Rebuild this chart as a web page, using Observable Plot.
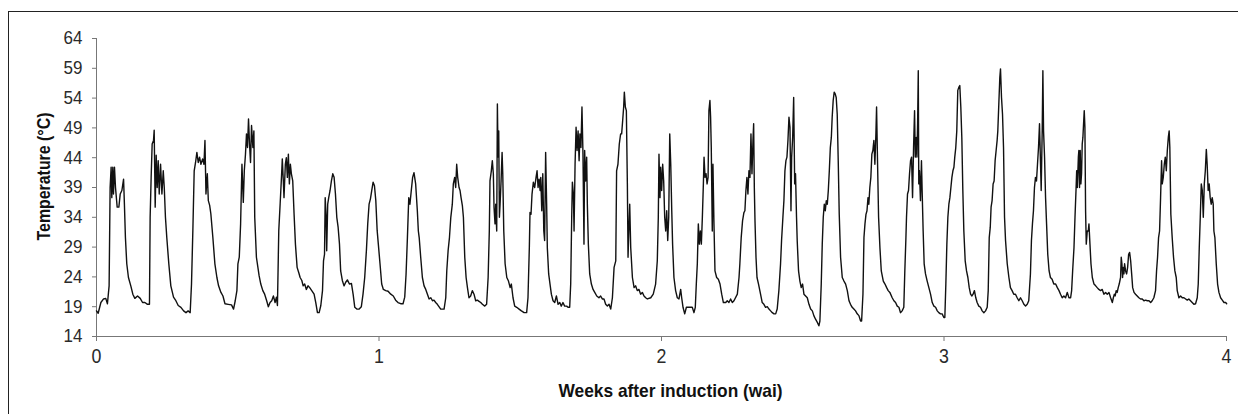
<!DOCTYPE html>
<html>
<head>
<meta charset="utf-8">
<script src="https://cdn.jsdelivr.net/npm/d3@7"></script>
<script src="https://cdn.jsdelivr.net/npm/@observablehq/plot@0.6"></script>
<style>
  html, body { margin: 0; padding: 0; background: #fff; }
  body { width: 1238px; height: 414px; position: relative; overflow: hidden; }
  #frame { position: absolute; left: 8px; top: 11px; width: 1240px; height: 410px; border: 1px solid #222; box-sizing: border-box; }
  #chart { position: absolute; left: 0; top: 0; }
  #chart svg { font-family: "Liberation Sans Narrow", "Arial Narrow", "Liberation Sans", Arial, sans-serif; }
</style>
</head>
<body>
<div id="frame"></div>
<div id="chart"></div>
<script>
// Temperature readings: [hours after induction, °C]
const week1Readings = [
  [0,18.3],[1.0,17.9],[2.6,19.7],[4.2,20.3],[5.5,20.4],[6.5,19.5],[7.5,22.5],[8.1,39.0],[8.7,42.4],[9.1,37.3],[9.7,42.4],[10.1,37.9],[10.7,42.4],[11.3,39.0],[12.3,35.7],[13.3,35.7],[14.1,37.9],[15.1,38.5],[16.1,40.4],[16.6,36.2],[17.2,30.6],[18.0,26.2],[19.0,23.9],[20.4,22.5],[21.6,21.1],[22.8,20.4],
  [24.4,20.8],[26.0,20.4],[27.4,19.7],[28.8,19.7],[30.3,19.4],[31.5,19.4],[31.9,34.0],[32.5,40.7],[33.1,46.3],[33.9,46.9],[34.3,48.6],[34.9,35.7],[35.5,44.4],[36.1,39.0],[36.7,43.5],[37.3,37.9],[38.1,42.9],[38.9,37.9],[39.7,41.8],[40.3,39.0],[41.0,34.0],[41.8,30.6],[43.0,26.2],[44.2,22.5],[45.8,20.6],[47.2,20.0],
  [48.6,19.2],[50.2,18.9],[51.8,18.3],[53.2,18.0],[54.5,18.3],[55.7,18.0],[56.5,22.8],[57.3,31.8],[58.1,41.8],[58.9,43.2],[59.7,44.9],[60.5,43.2],[61.3,44.1],[62.1,42.9],[63.1,43.8],[63.9,42.9],[64.5,46.9],[65.1,37.9],[65.9,41.3],[66.5,36.8],[67.3,36.0],[68.0,34.6],[69.2,30.6],[70.4,26.2],[71.6,23.9],
  [72.6,22.5],[74.0,21.4],[75.2,20.8],[76.4,19.5],[78.3,19.4],[80.3,19.3],[81.5,18.6],[82.5,20.0],[83.5,21.7],[84.1,26.2],[84.9,27.3],[85.7,32.9],[86.5,42.9],[87.3,36.5],[87.9,41.8],[88.6,44.6],[89.2,48.0],[89.8,45.7],[90.4,50.5],[91.0,46.3],[91.6,43.2],[92.2,49.4],[93.0,45.7],[93.6,48.5],[94.1,34.0],[95.1,27.3],
  [96.7,24.2],[97.7,22.8],[98.9,21.7],[100.0,21.1],[101.2,20.0],[102.2,19.0],[103.2,19.7],[104.2,20.0],[105.2,20.8],[106.2,19.7],[107.0,20.6],[107.6,19.2],[108.4,31.8],[109.2,36.2],[110.0,40.7],[110.5,43.8],[111.1,40.1],[111.5,37.3],[112.3,42.9],[112.9,44.0],[113.5,40.7],[114.1,44.6],[114.7,39.6],[115.3,42.9],[115.9,41.3],[116.7,40.1],[117.5,34.5],[118.3,29.5],[119.3,25.6],
  [120.3,24.7],[121.1,23.9],[122.1,23.4],[122.9,22.5],[123.8,22.8],[124.8,21.9],[125.8,22.5],[126.8,22.2],[128.0,21.7],[129.4,21.1],[130.4,19.7],[131.4,18.0],[132.4,18.0],[133.4,19.2],[134.4,21.7],[135.0,26.7],[135.6,27.8],[136.0,37.3],[136.5,34.5],[136.9,28.4],[137.5,36.2],[138.1,37.3],[138.9,38.5],[139.7,40.1],[140.5,41.3],[141.3,40.7],[142.1,37.9],[142.9,34.0],[143.7,32.3],
  [144.5,29.5],[145.2,25.0],[146.2,23.4],[147.2,22.5],[148.2,23.1],[149.2,23.5],[150.4,22.8],[151.6,22.9],[152.6,21.1],[153.6,18.9],[154.8,18.6],[156.2,18.6],[157.5,19.0],[158.5,21.1],[159.5,23.9],[160.5,28.4],[161.3,32.9],[162.1,36.2],[162.9,37.1],[163.7,38.5],[164.5,39.9],[165.3,39.3],[166.1,36.8],[166.9,31.8],[167.6,29.5]
];
const week2Readings = [
  [168.6,26.2],[169.6,22.8],[170.6,21.9],[172.0,21.7],[173.4,21.6],[175.0,21.1],[176.5,20.8],[177.9,20.1],[179.3,19.7],[180.9,19.5],[182.3,19.5],[183.3,20.6],[184.1,24.5],[184.9,30.6],[185.7,37.3],[186.4,36.2],[187.2,38.5],[188.0,40.7],[188.8,41.5],[189.8,39.6],[190.8,35.1],[191.4,31.7],[191.9,30.6],[192.8,27.3],[193.8,23.9],[194.8,22.5],[195.8,21.9],[196.8,21.1],[197.8,20.3],[198.8,20.5],[199.8,20.0],[200.7,20.1],[201.7,19.7],[202.7,19.4],[204.7,18.6],[206.7,18.6],
  [207.7,20.5],[208.3,25.0],[209.1,28.4],[209.9,30.6],[210.7,34.0],[211.6,36.2],[212.2,39.6],[213.0,40.7],[213.6,39.0],[214.2,42.9],[214.8,40.7],[215.6,39.0],[216.2,38.5],[216.8,37.3],[217.6,35.9],[218.2,34.0],[219.0,27.3],[219.8,23.9],[220.6,22.2],[221.5,20.5],[222.5,20.8],[223.5,21.7],[224.5,21.1],[225.5,20.0],[226.5,20.1],[227.5,19.9],[228.5,19.7],[229.5,19.4],[230.9,19.1],[232.0,19.4],
  [232.9,23.9],[233.6,31.7],[234.0,40.1],[234.8,41.8],[235.4,43.5],[236.0,41.3],[236.4,35.7],[237.0,32.9],[237.4,36.2],[238.0,31.7],[238.4,53.0],[238.8,44.1],[239.2,48.5],[239.6,34.0],[240.0,36.2],[240.6,40.1],[241.2,44.9],[241.6,41.3],[242.2,31.7],[243.0,26.2],[244.0,23.9],[245.0,23.3],[246.0,22.2],[246.7,22.8],[247.7,20.5],[248.7,19.1],[249.9,18.9],[251.3,18.6],[252.7,18.3],[254.3,18.0],[255.8,18.0],
  [256.6,20.5],[257.4,28.9],[257.8,34.8],[258.4,34.5],[259.0,37.9],[259.8,39.9],[260.6,39.0],[261.4,40.7],[262.0,41.8],[262.6,39.0],[263.2,40.4],[263.8,38.5],[264.2,40.7],[264.8,35.1],[265.4,41.3],[266.0,31.7],[266.5,30.1],[267.1,44.9],[267.7,36.2],[268.1,28.9],[268.9,24.5],[269.7,22.8],[270.5,21.1],[271.5,20.0],[272.5,19.7],[273.5,20.8],[274.5,19.4],[275.5,19.7],[276.4,19.1],[277.4,19.7],[278.4,19.1],[279.6,19.1],[280.4,18.9],[281.4,18.9],
  [282.0,22.8],[282.6,34.0],[283.0,39.9],[283.6,37.9],[284.0,31.7],[284.6,42.9],[285.2,49.1],[285.8,45.2],[286.4,48.5],[287.0,43.5],[287.5,48.0],[288.1,45.7],[288.7,52.5],[289.3,44.6],[289.9,29.5],[290.3,45.2],[290.9,40.1],[291.5,44.1],[291.9,36.2],[292.5,29.5],[293.3,24.5],[294.3,22.8],[295.3,21.9],[296.3,21.4],[297.5,20.8],[298.8,20.5],[299.8,20.8],[300.8,20.3],[301.8,20.3],[302.8,19.4],[303.8,19.1],[304.8,19.4],[305.8,18.6],
  [306.8,20.5],[307.8,25.6],[308.8,26.7],[309.3,41.8],[310.1,42.9],[310.9,46.3],[311.7,48.0],[312.3,48.0],[312.9,50.2],[313.5,52.5],[313.9,55.0],[314.5,52.5],[315.1,51.9],[315.7,39.6],[316.1,27.3],[316.7,32.9],[317.1,36.2],[317.7,28.9],[318.7,23.9],[319.7,22.2],[320.6,22.5],[321.6,21.7],[322.6,21.9],[323.6,21.1],[324.6,21.4],[325.6,20.8],[326.6,20.5],[327.6,20.3],[329.6,20.5],[331.1,21.1],[332.5,22.8],
  [333.5,26.7],[334.1,34.0],[334.5,44.6],[335.1,37.3],[335.5,42.4]
];
const week3Readings = [
  [336.1,38.5],[336.7,42.9],[337.3,40.1],[337.9,34.0],[338.5,31.7],[339.1,35.1],[339.7,30.1],[340.3,34.0],[340.9,48.0],[341.5,42.9],[342.1,35.1],[342.6,29.5],[343.4,23.9],[344.4,21.7],[345.4,20.5],[346.4,20.3],[347.4,21.9],[348.0,20.5],[348.8,18.9],[349.8,17.8],[350.8,18.9],[351.8,18.9],[352.9,18.9],[354.3,18.9],[355.3,18.0],[356.1,18.9],
  [356.7,22.8],[357.3,26.2],[357.9,32.9],[358.5,29.5],[359.1,31.7],[359.7,29.5],[360.3,34.0],[360.9,39.6],[361.3,44.1],[361.9,40.7],[362.5,41.3],[363.1,39.6],[363.7,40.7],[364.2,51.9],[364.8,53.6],[365.2,50.8],[365.6,45.7],[366.2,31.7],[366.6,42.9],[367.2,32.9],[367.8,25.0],[368.8,23.9],[369.8,23.6],[370.8,22.8],[371.8,21.1],[372.8,19.7],[374.2,19.7],[375.1,20.0],[376.1,19.7],[377.1,20.3],[378.1,19.7],[379.1,20.0],
  [381.1,21.1],[382.1,23.9],[382.6,26.2],[383.4,30.6],[384.2,33.4],[385.0,34.8],[385.6,35.1],[386.2,38.5],[386.8,40.7],[387.4,37.9],[388.0,41.8],[388.6,40.7],[389.2,48.0],[389.8,41.3],[390.4,46.9],[390.8,49.7],[391.2,39.0],[391.6,33.4],[392.2,27.3],[392.8,23.9],[393.7,22.8],[394.9,21.1],[395.9,19.7],[396.9,19.4],[397.9,18.9],[398.9,19.0],[399.9,18.6],[400.9,18.3],[401.9,18.0],[402.9,17.8],[403.9,17.8],[404.8,18.6],
  [405.8,21.7],[406.8,26.2],[407.4,30.1],[408.2,34.0],[408.8,36.8],[409.4,41.8],[410.0,43.5],[410.6,44.1],[411.2,46.9],[411.8,50.8],[412.4,49.1],[413.0,35.1],[413.4,44.1],[414.0,47.4],[414.6,54.1],[415.2,39.6],[415.7,41.3],[416.3,34.0],[416.7,30.1],[417.5,25.0],[418.3,23.3],[419.1,22.2],[419.9,22.8],[420.7,21.1],[421.7,20.8],[422.7,20.5],[423.7,19.4],[424.7,18.6],[425.7,18.3],[426.6,17.5],[427.6,16.9],[428.6,16.4],[429.6,15.8],[430.2,16.6],
  [431.0,22.8],[431.6,29.5],[432.2,34.0],[432.8,36.2],[433.4,35.1],[434.0,36.8],[434.6,36.2],[435.2,38.5],[435.8,41.8],[436.4,45.7],[437.0,47.4],[437.5,50.8],[438.1,53.6],[438.7,55.0],[439.3,54.7],[439.9,54.1],[440.5,51.3],[441.1,43.5],[441.7,34.5],[442.5,27.3],[443.5,23.9],[444.5,23.3],[445.5,22.8],[446.5,21.7],[447.5,20.0],[448.4,19.4],[449.4,18.9],[450.4,18.6],[451.4,18.3],[452.4,17.8],[453.4,17.5],[454.4,16.6],[455.0,16.6],
  [455.8,21.1],[456.4,30.6],[457.0,32.9],[457.6,34.5],[458.2,35.1],[458.8,37.3],[459.3,36.2],[459.9,39.0],[460.5,40.7],[461.1,44.6],[461.7,45.2],[462.3,46.9],[462.9,42.9],[463.5,48.0],[463.9,52.5],[464.5,42.9],[465.1,34.0],[465.9,28.9],[466.7,25.0],[467.9,23.3],[468.9,22.8],[469.9,22.2],[470.8,21.7],[471.8,21.4],[473.2,20.5],[474.2,20.0],[475.2,19.7],[476.2,19.1],[477.2,18.9],[478.1,18.0],[479.1,18.3],[480.1,18.9],
  [480.7,25.0],[481.3,30.1],[481.7,34.0],[482.3,37.9],[482.9,38.5],[483.5,41.3],[484.1,43.5],[484.7,44.1],[485.3,37.3],[485.9,45.7],[486.5,51.9],[486.9,44.1],[487.5,47.4],[487.9,44.1],[488.3,49.7],[488.7,58.6],[489.0,39.6],[489.4,41.8],[490.0,36.8],[490.6,43.5],[491.0,38.5],[491.6,31.7],[492.2,26.2],[493.0,24.5],[494.0,23.3],[495.0,22.2],[496.0,21.1],[497.0,19.7],[498.0,19.1],[499.0,18.9],[500.0,18.3],[500.9,18.0],[501.9,17.8],[502.9,17.8],[503.9,17.2]
];
const week4Readings = [
  [504.5,17.2],[505.1,22.8],[505.7,29.5],[506.3,34.0],[506.9,36.2],[507.5,37.3],[508.1,39.0],[508.7,40.7],[509.3,41.8],[509.9,42.4],[510.4,44.1],[511.0,45.7],[511.6,48.5],[512.2,55.3],[512.8,55.8],[513.4,56.1],[514.0,52.5],[514.6,47.4],[515.2,38.5],[515.8,31.7],[516.6,26.7],[517.4,25.0],[518.2,23.9],[519.0,22.2],[519.8,21.1],[520.6,20.8],[521.3,21.1],[522.1,21.7],[522.9,20.5],[523.7,19.7],[524.7,19.1],[525.7,18.9],[526.7,18.3],[527.7,18.0],[528.7,18.3],[529.7,18.9],
  [530.3,21.7],[530.9,30.6],[531.5,32.3],[532.0,35.7],[532.6,36.8],[533.2,39.6],[533.8,40.1],[534.4,43.5],[535.0,45.2],[535.6,46.9],[536.0,48.5],[536.6,53.0],[537.2,57.5],[537.6,58.9],[538.2,54.1],[538.8,51.3],[539.4,45.7],[540.0,34.0],[540.6,30.1],[541.6,26.2],[542.6,23.9],[543.5,22.2],[544.5,21.7],[545.5,21.1],[546.5,21.1],[547.5,20.5],[548.5,20.0],[549.5,20.5],[550.5,20.0],[551.5,19.4],[552.5,19.1],[553.5,19.4],[554.4,20.0],
  [555.4,24.5],[556.0,30.1],[556.6,32.9],[557.2,35.1],[557.8,39.0],[558.4,40.7],[559.0,40.1],[559.6,42.9],[560.2,45.7],[560.8,49.7],[561.4,42.9],[561.8,38.5],[562.4,48.5],[562.8,58.6],[563.2,48.5],[563.8,44.1],[564.4,37.3],[565.0,32.9],[565.7,27.8],[566.5,25.0],[567.3,23.9],[568.3,23.6],[569.3,22.8],[570.4,22.8],[571.4,22.2],[572.4,21.7],[573.3,21.1],[574.3,20.5],[575.3,20.8],[576.3,20.5],[577.3,21.4],[578.3,20.5],[579.3,20.5],
  [579.9,21.7],[580.5,25.0],[581.3,28.9],[581.9,34.0],[582.5,38.5],[582.9,41.8],[583.3,39.0],[583.9,44.1],[584.2,45.2],[584.6,39.0],[585.0,45.2],[585.4,39.6],[585.8,41.3],[586.2,46.3],[586.6,47.4],[587.0,49.7],[587.4,51.9],[587.8,49.1],[588.2,35.1],[588.6,29.5],[589.2,31.7],[589.8,31.7],[590.2,32.9],[590.8,29.5],[591.4,26.2],[592.2,23.9],[593.2,22.8],[594.2,22.5],[595.1,22.2],[596.1,21.9],[597.1,21.7],[598.1,21.9],[599.1,21.1],[600.1,21.4],[601.1,21.1],[602.1,21.4],[603.1,20.5],[604.1,19.7],
  [604.7,20.5],[605.3,21.1],[605.8,20.8],[606.4,21.7],[607.0,21.4],[607.6,22.2],[608.2,22.8],[609.0,23.9],[609.4,27.3],[609.8,26.2],[610.2,23.9],[610.6,25.6],[611.0,24.5],[611.4,26.2],[612.0,25.0],[612.6,24.5],[613.2,25.6],[613.8,27.8],[614.4,28.1],[615.0,26.7],[615.6,24.5],[616.2,22.2],[617.0,21.4],[617.9,21.1],[618.9,20.8],[619.9,20.5],[620.9,20.3],[621.9,20.3],[622.9,20.0],[623.9,20.1],[624.9,20.0],[625.9,20.0],[626.9,19.7],[627.8,20.0],[628.8,20.5],
  [629.8,21.7],[630.4,25.0],[631.0,27.3],[631.6,30.6],[632.2,31.7],[632.8,37.3],[633.4,43.5],[633.8,39.6],[634.4,40.7],[635.0,42.9],[635.6,44.1],[636.2,41.8],[636.8,45.2],[637.4,47.4],[637.9,48.5],[638.3,45.7],[638.9,34.5],[639.7,30.6],[640.5,27.3],[641.3,25.0],[642.1,23.9],[642.7,21.7],[643.7,20.5],[644.7,20.8],[645.7,20.5],[646.7,20.5],[647.7,20.3],[648.7,20.1],[649.6,20.3],[650.6,20.0],[651.6,19.7],[652.6,19.4],[653.6,19.5],
  [654.6,20.5],[655.2,22.8],[655.8,28.9],[656.4,34.0],[657.0,39.6],[657.6,38.5],[658.2,34.0],[658.8,39.6],[659.4,41.8],[660.0,45.4],[660.5,42.9],[661.1,38.5],[661.7,39.6],[662.3,37.3],[662.9,36.2],[663.5,37.3],[664.1,36.2],[664.5,31.7],[665.1,30.6],[665.9,26.2],[666.7,22.8],[667.5,21.4],[668.5,20.5],[669.5,20.1],[670.5,19.7],[671.5,19.7],[672.1,19.5]
];

const yTicks = [14, 19, 24, 29, 34, 39, 44, 49, 54, 59, 64];
const xTicks = [0, 1, 2, 3, 4];
const xTitle = "Weeks after induction (wai)";
const yTitle = "Temperature (°C)";
const hoursPerWeek = 168;

const readings = [...week1Readings, ...week2Readings, ...week3Readings, ...week4Readings]
  .map(([h, t]) => ({week: h / hoursPerWeek, temp: t}));

const chart = Plot.plot({
  width: 1238,
  height: 414,
  marginLeft: 96,
  marginRight: 12,
  marginTop: 38,
  marginBottom: 78,
  x: {domain: [0, 4]},
  y: {domain: [14, 64]},
  marks: [
    Plot.axisY({ticks: yTicks, tickFormat: d => String(d), tickSize: 4, tickPadding: 10, fontSize: 18.5, label: null, stroke: "#777", color: "#2a2a2a"}),
    Plot.axisX({ticks: xTicks, tickFormat: d => String(d), tickSize: 5, tickPadding: 7, fontSize: 21, label: null, stroke: "#777", color: "#2a2a2a"}),
    Plot.ruleX([0], {stroke: "#777"}),
    Plot.ruleY([14], {stroke: "#777"}),
    Plot.line(readings, {x: "week", y: "temp", stroke: "#111", strokeWidth: 1.4}),
    Plot.text([yTitle], {className: "y-title", frameAnchor: "left", textAnchor: "middle", lineAnchor: "middle", rotate: -90, dx: -53, dy: -11, fontSize: 19, fontWeight: "bold", fill: "#111"}),
    Plot.text([xTitle], {className: "x-title", frameAnchor: "bottom", textAnchor: "middle", lineAnchor: "middle", dx: 9, dy: 54, fontSize: 19, fontWeight: "bold", fill: "#111"})
  ]
});
document.getElementById("chart").appendChild(chart);

// Condense the text to match the narrow typeface of the original
const svg = d3.select(chart);
svg.selectAll('g[aria-label="y-axis tick label"] text').each(function() {
  const len = this.getComputedTextLength();
  this.setAttribute("textLength", (len * 0.92).toFixed(1));
  this.setAttribute("lengthAdjust", "spacingAndGlyphs");
});
svg.selectAll('g[aria-label="x-axis tick label"] text').each(function() {
  const len = this.getComputedTextLength();
  this.setAttribute("textLength", (len * 0.85).toFixed(1));
  this.setAttribute("lengthAdjust", "spacingAndGlyphs");
});
svg.selectAll(".x-title text").attr("textLength", 224).attr("lengthAdjust", "spacingAndGlyphs");
svg.selectAll(".y-title text").attr("textLength", 128).attr("lengthAdjust", "spacingAndGlyphs");
</script>
</body>
</html>
